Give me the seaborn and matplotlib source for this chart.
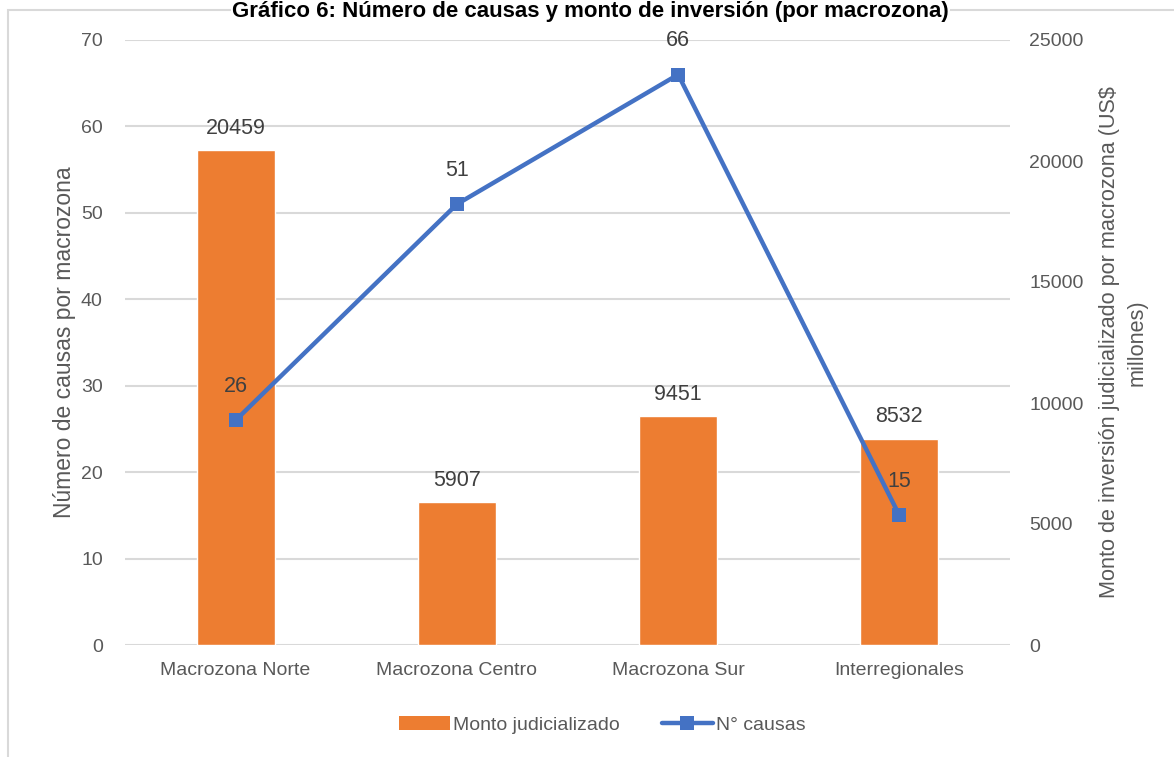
import matplotlib
matplotlib.use("Agg")
import matplotlib.pyplot as plt
from matplotlib.patches import Patch, Rectangle
from matplotlib.lines import Line2D
import seaborn as sns
import pandas as pd
import numpy as np

categories = ["Macrozona Norte", "Macrozona Centro", "Macrozona Sur", "Interregionales"]
monto = [20459, 5907, 9451, 8532]
causas = [26, 51, 66, 15]
left_ticks = [0, 10, 20, 30, 40, 50, 60, 70]
right_ticks = [0, 5000, 10000, 15000, 20000, 25000]

sns.set_theme(style="white")
plt.rcParams['font.family'] = ['Liberation Sans Narrow', 'Liberation Sans', 'DejaVu Sans']

ORANGE = "#ED7D31"
BLUE = "#4472C4"
TXT = "#595959"
LBL = "#404040"
GRID = "#D9D9D9"

W, H = 1174, 757
fig = plt.figure(figsize=(W / 100, H / 100), dpi=100)
fig.patch.set_facecolor("white")

# chart frame
fig.patches.append(Rectangle((8 / W, -0.1), 1.2, 1 - 10 / H + 0.1, transform=fig.transFigure,
                             fill=False, edgecolor="#D9D9D9", linewidth=1.5, zorder=0))

ax_bar = fig.add_axes([125 / W, 1 - 645 / H, (1010 - 125) / W, (645 - 40) / H])
ax_line = ax_bar.twinx()

df = pd.DataFrame({"cat": categories, "monto": monto, "causas": causas, "pos": np.arange(len(categories))})

sns.barplot(data=df, x="cat", y="monto", ax=ax_bar, color=ORANGE, width=0.353, saturation=1)
sns.lineplot(data=df, x="pos", y="causas", ax=ax_line, color=BLUE, linewidth=3.2,
             marker="s", markersize=10, markeredgewidth=0, sort=False)

ax_bar.set_xlim(-0.5, len(categories) - 0.5)
ax_bar.set_ylim(0, 25000)
ax_line.set_ylim(0, 70)

# right axis = bars, left axis = line
ax_bar.yaxis.tick_right()
ax_bar.yaxis.set_label_position("right")
ax_line.yaxis.tick_left()
ax_line.yaxis.set_label_position("left")

ax_bar.set_yticks(right_ticks)
ax_bar.set_yticklabels([str(t) for t in right_ticks])
ax_line.set_yticks(left_ticks)
ax_line.set_yticklabels([str(t) for t in left_ticks])

for a in (ax_bar, ax_line):
    for s in a.spines.values():
        s.set_visible(False)
    a.tick_params(axis="both", length=0, labelsize=14, colors=TXT)
    a.set_facecolor("none")

ax_bar.tick_params(axis="y", pad=14)
ax_line.tick_params(axis="y", pad=16)
ax_bar.tick_params(axis="x", pad=12)

# gridlines from left axis
for t in left_ticks:
    ax_bar.axhline(t / 70 * 25000, color=GRID, linewidth=1.5, zorder=0)

ax_bar.set_xlabel("")
ax_line.set_xlabel("")
ax_line.set_ylabel("Número de causas por macrozona", fontsize=16.5, color=TXT)
ax_line.yaxis.set_label_coords(-0.055, 0.5)
ax_bar.set_ylabel("Monto de inversión judicializado por macrozona (US$\nmillones)", fontsize=15.6,
                  color=TXT, rotation=90, linespacing=1.45)
ax_bar.yaxis.set_label_coords(1.1, 0.5)

ax_line.set_zorder(ax_bar.get_zorder() + 1)

# data labels
for i, v in enumerate(monto):
    ax_bar.annotate(str(v), (i, v), xytext=(0, 8), textcoords="offset points",
                    ha="center", va="bottom", fontsize=15.5, color=LBL)
for i, v in enumerate(causas):
    ax_line.annotate(str(v), (i, v), xytext=(0, 17), textcoords="offset points",
                     ha="center", va="bottom", fontsize=15.5, color=LBL)

fig.text(0.503, 1 - 1 / H, "Gráfico 6: Número de causas y monto de inversión (por macrozona)",
         ha="center", va="top", fontsize=16, fontweight="bold", color="black",
         bbox=dict(facecolor="white", edgecolor="none", pad=0.5), zorder=5)

handles = [Patch(facecolor=ORANGE, edgecolor="none", label="Monto judicializado"),
           Line2D([0], [0], color=BLUE, linewidth=3.2, marker="s", markersize=10,
                  markeredgewidth=0, label="N° causas")]
leg = fig.legend(handles=handles, loc="center", bbox_to_anchor=(0.513, 1 - 725 / H), ncol=2,
                 frameon=False, fontsize=14, handlelength=2.6, handletextpad=0.15,
                 columnspacing=2.2)
for t in leg.get_texts():
    t.set_color(TXT)

fig.savefig("out.png", dpi=100, facecolor="white")
